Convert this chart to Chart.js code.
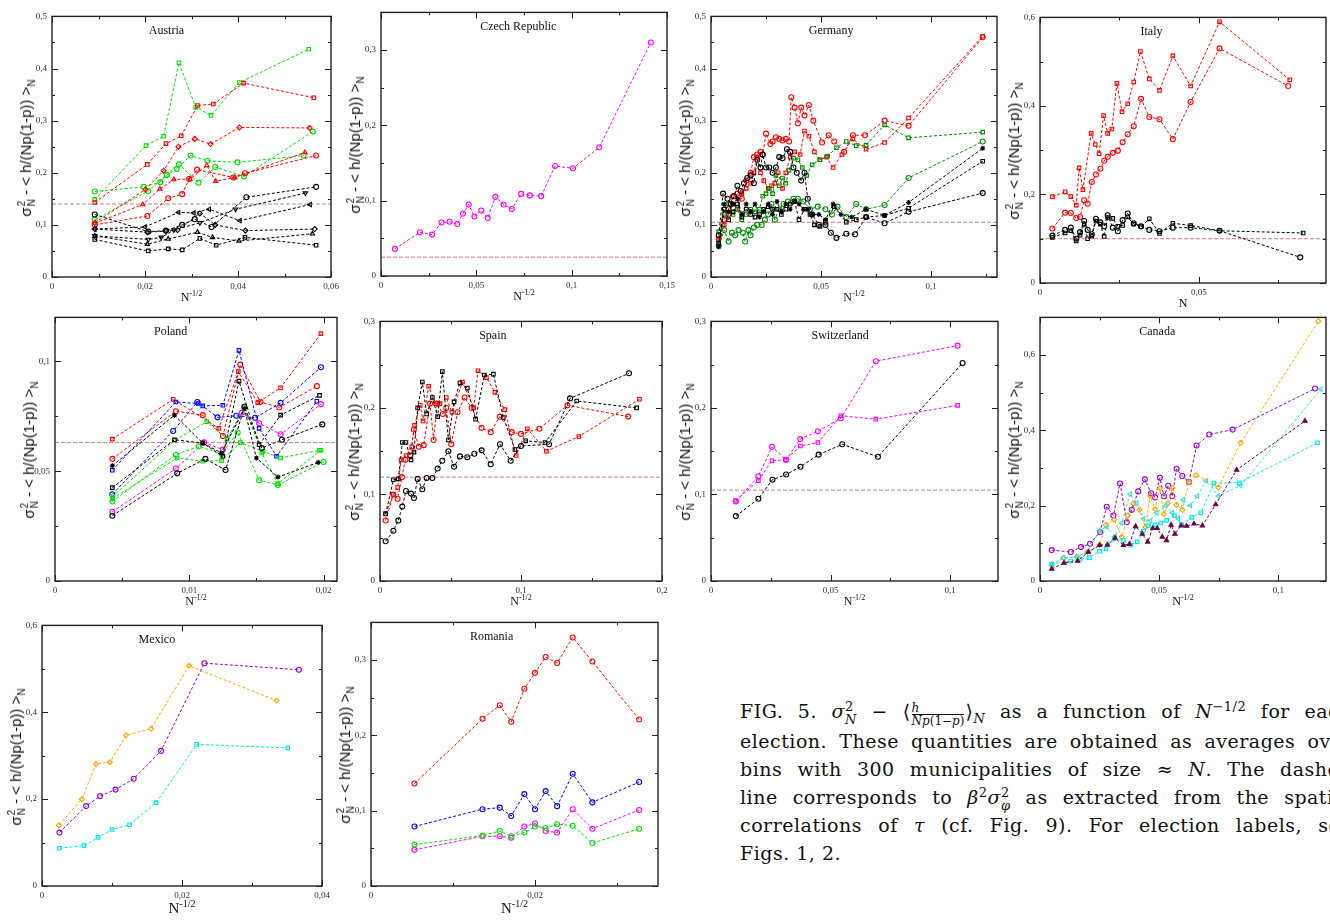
<!DOCTYPE html>
<html>
<head>
<meta charset="utf-8">
<script src="https://cdn.jsdelivr.net/npm/chart.js@4.4.0/dist/chart.umd.min.js"></script>
<style>
  body { margin: 0; width: 1330px; height: 921px; overflow: hidden; background: #fff; position: relative; font-family: 'Liberation Serif', serif; }
  canvas { position: absolute; }
  .ylab { position: absolute; white-space: nowrap; font-family: 'Liberation Sans', sans-serif; font-size: 15px; color: #111;
          transform: translate(-50%, -50%) rotate(-90deg); }
  .st { display: inline-flex; flex-direction: column; font-size: 10px; line-height: 10px; vertical-align: middle; margin-left: 1px; }
  .ylab sub { font-size: 10px; }
  .xlab { position: absolute; white-space: nowrap; transform: translate(-50%, -50%); font-size: 12px; color: #111; font-family: 'Liberation Serif', serif; }
  .xlab sup { font-size: 8px; }
  .xlab.big { font-size: 15px; }
  .xlab.big sup { font-size: 10px; }
  .cap { position: absolute; left: 740px; width: 612px; height: 28px; line-height: 28px; font-size: 19px; color: #111; letter-spacing: 0.5px;
         font-family: 'DejaVu Serif', serif; text-align: justify; text-align-last: justify; white-space: nowrap; }
  .cap.last { text-align-last: left; }
  .cap sub, .cap sup { font-size: 13px; line-height: 0; }
  .frac { display: inline-block; vertical-align: -0.55em; text-align: center; font-size: 12px; line-height: 12px; margin: 0 1px; letter-spacing: 0; }
  .frac span { display: block; }
  .frac .num { border-bottom: 1px solid #111; }
  .st2 { display: inline-flex; flex-direction: column; font-size: 13px; line-height: 13px; vertical-align: middle; }
</style>
</head>
<body>
<script>
// ---- Austria ----
const atGreenSq = [[0.0092,0.149],[0.0202,0.252],[0.0240,0.270],[0.0273,0.411],[0.0309,0.326],[0.0342,0.310],[0.0403,0.373],[0.0552,0.437]];
const atRedSq = [[0.0092,0.143],[0.0205,0.216],[0.0245,0.256],[0.0278,0.271],[0.0313,0.329],[0.0347,0.332],[0.0412,0.372],[0.0563,0.344]];
const atRedDi = [[0.0092,0.104],[0.0201,0.168],[0.0240,0.204],[0.0272,0.250],[0.0307,0.265],[0.0341,0.255],[0.0403,0.287],[0.0554,0.286]];
const atGreenCi = [[0.0092,0.164],[0.0197,0.173],[0.0233,0.182],[0.0247,0.196],[0.0268,0.207],[0.0298,0.233],[0.0334,0.223],[0.0399,0.220],[0.0541,0.233]];
const atGreenLo = [[0.0092,0.110],[0.0207,0.165],[0.0247,0.196],[0.0273,0.216],[0.0315,0.181],[0.0351,0.211],[0.0413,0.193],[0.0561,0.279]];
const atRedTr = [[0.0092,0.103],[0.0195,0.139],[0.0232,0.169],[0.0262,0.187],[0.0297,0.188],[0.0333,0.214],[0.0352,0.184],[0.0393,0.191],[0.0544,0.239]];
const atRedCi = [[0.0092,0.100],[0.0205,0.117],[0.0250,0.151],[0.0280,0.159],[0.0295,0.188],[0.0312,0.206],[0.0390,0.191],[0.0415,0.199],[0.0568,0.233]];
const atBlkCi = [[0.0092,0.120],[0.0207,0.087],[0.0245,0.089],[0.0280,0.100],[0.0307,0.111],[0.0343,0.096],[0.0418,0.153],[0.0568,0.173]];
const atBlkTd = [[0.0092,0.079],[0.0207,0.072],[0.0235,0.076],[0.0262,0.090],[0.0318,0.104],[0.0395,0.130],[0.0545,0.161]];
const atBlkTl = [[0.0092,0.092],[0.0200,0.096],[0.0272,0.124],[0.0305,0.123],[0.0338,0.130],[0.0404,0.108],[0.0555,0.139]];
const atBlkDi = [[0.0092,0.092],[0.0205,0.086],[0.0245,0.088],[0.0270,0.090],[0.0318,0.122],[0.0351,0.100],[0.0416,0.089],[0.0565,0.092]];
const atBlkTu = [[0.0092,0.079],[0.0205,0.063],[0.0250,0.073],[0.0313,0.086],[0.0345,0.076],[0.0402,0.069],[0.0560,0.083]];
const atBlkSq = [[0.0092,0.072],[0.0207,0.050],[0.0250,0.054],[0.0280,0.052],[0.0318,0.074],[0.0353,0.061],[0.0415,0.076],[0.0568,0.061]];

// ---- Czech Republic ----
const czMag = [[0.0073,0.036],[0.0204,0.058],[0.0268,0.055],[0.0317,0.071],[0.0360,0.072],[0.0400,0.069],[0.0430,0.083],[0.0460,0.095],[0.0490,0.079],[0.0526,0.087],[0.0560,0.077],[0.0600,0.105],[0.0643,0.095],[0.0686,0.089],[0.0735,0.109],[0.0780,0.107],[0.0840,0.106],[0.0913,0.146],[0.1007,0.143],[0.1145,0.171],[0.1415,0.310]];

// ---- Germany ----
const deRedCi = [[0.0035,0.073],[0.006,0.110],[0.008,0.130],[0.010,0.155],[0.012,0.160],[0.014,0.150],[0.016,0.185],[0.018,0.200],[0.0195,0.230],[0.021,0.235],[0.0225,0.240],[0.0235,0.235],[0.025,0.275],[0.027,0.255],[0.028,0.260],[0.0295,0.268],[0.031,0.265],[0.0325,0.262],[0.034,0.265],[0.0355,0.260],[0.0365,0.345],[0.038,0.325],[0.0395,0.295],[0.041,0.325],[0.0425,0.310],[0.0445,0.330],[0.0465,0.300],[0.0505,0.258],[0.0535,0.272],[0.056,0.260],[0.0605,0.240],[0.0645,0.272],[0.070,0.272],[0.0789,0.300],[0.0898,0.290],[0.1235,0.460]];
const deRedSq = [[0.0035,0.070],[0.006,0.100],[0.008,0.120],[0.010,0.140],[0.012,0.130],[0.014,0.160],[0.016,0.170],[0.018,0.180],[0.0195,0.200],[0.021,0.230],[0.0225,0.200],[0.024,0.185],[0.026,0.170],[0.0275,0.175],[0.029,0.180],[0.0305,0.200],[0.0325,0.170],[0.034,0.200],[0.036,0.230],[0.038,0.240],[0.0405,0.235],[0.0425,0.280],[0.0445,0.270],[0.047,0.240],[0.0495,0.225],[0.0525,0.230],[0.0555,0.210],[0.0595,0.235],[0.0645,0.265],[0.0705,0.245],[0.0789,0.258],[0.0898,0.305],[0.1235,0.462]];
const deGrnSq = [[0.0035,0.087],[0.006,0.120],[0.008,0.140],[0.010,0.120],[0.012,0.130],[0.014,0.110],[0.016,0.120],[0.018,0.130],[0.020,0.125],[0.022,0.130],[0.0235,0.155],[0.025,0.160],[0.0265,0.170],[0.028,0.160],[0.0295,0.195],[0.031,0.175],[0.0325,0.190],[0.034,0.180],[0.0355,0.205],[0.0375,0.228],[0.0395,0.225],[0.0415,0.210],[0.0435,0.195],[0.046,0.215],[0.0495,0.225],[0.053,0.232],[0.057,0.248],[0.0615,0.260],[0.066,0.252],[0.0705,0.253],[0.0789,0.292],[0.0898,0.267],[0.1235,0.278]];
const deGrnCi = [[0.0035,0.060],[0.006,0.090],[0.008,0.068],[0.0095,0.085],[0.011,0.080],[0.0125,0.090],[0.0145,0.085],[0.0155,0.068],[0.017,0.090],[0.018,0.080],[0.0195,0.095],[0.021,0.100],[0.023,0.100],[0.0245,0.110],[0.026,0.120],[0.0275,0.140],[0.029,0.110],[0.031,0.130],[0.033,0.140],[0.035,0.145],[0.0375,0.150],[0.0395,0.150],[0.042,0.145],[0.045,0.130],[0.0485,0.135],[0.052,0.130],[0.055,0.120],[0.0575,0.135],[0.0615,0.115],[0.066,0.140],[0.0705,0.130],[0.0789,0.138],[0.0898,0.190],[0.1235,0.260]];
const deBlkCi = [[0.0035,0.080],[0.0055,0.160],[0.0075,0.150],[0.009,0.140],[0.0105,0.155],[0.012,0.175],[0.0135,0.165],[0.015,0.180],[0.0165,0.190],[0.018,0.195],[0.0195,0.180],[0.021,0.225],[0.0225,0.210],[0.0235,0.235],[0.025,0.210],[0.0265,0.210],[0.028,0.200],[0.0295,0.210],[0.031,0.230],[0.0325,0.228],[0.0345,0.245],[0.036,0.240],[0.0375,0.210],[0.039,0.200],[0.041,0.185],[0.0425,0.200],[0.044,0.150],[0.046,0.120],[0.049,0.100],[0.052,0.100],[0.0545,0.085],[0.057,0.075],[0.0615,0.083],[0.0655,0.082],[0.0705,0.115],[0.0789,0.103],[0.0898,0.125],[0.1235,0.161]];
const deBlkSq = [[0.0035,0.065],[0.006,0.130],[0.008,0.110],[0.010,0.125],[0.012,0.140],[0.014,0.115],[0.016,0.130],[0.018,0.120],[0.020,0.115],[0.022,0.120],[0.024,0.130],[0.026,0.135],[0.028,0.130],[0.030,0.130],[0.032,0.120],[0.034,0.130],[0.036,0.140],[0.038,0.145],[0.040,0.110],[0.0425,0.130],[0.045,0.120],[0.047,0.100],[0.0495,0.097],[0.052,0.105],[0.056,0.135],[0.0615,0.105],[0.066,0.110],[0.0705,0.115],[0.0789,0.118],[0.0898,0.132],[0.1235,0.222]];
const deBlkSt = [[0.0035,0.058],[0.006,0.140],[0.008,0.125],[0.010,0.140],[0.012,0.150],[0.014,0.120],[0.016,0.140],[0.018,0.125],[0.020,0.140],[0.022,0.115],[0.024,0.125],[0.026,0.140],[0.028,0.120],[0.030,0.145],[0.032,0.125],[0.034,0.140],[0.036,0.130],[0.038,0.145],[0.040,0.140],[0.042,0.130],[0.044,0.130],[0.046,0.120],[0.049,0.120],[0.052,0.110],[0.0555,0.140],[0.059,0.120],[0.064,0.115],[0.0705,0.130],[0.0789,0.118],[0.0898,0.143],[0.1235,0.247]];

// ---- Italy ----
const itRedSq = [[0.0039,0.195],[0.0079,0.206],[0.0097,0.195],[0.0114,0.176],[0.0123,0.260],[0.0135,0.211],[0.0161,0.338],[0.0174,0.313],[0.0186,0.292],[0.0200,0.378],[0.0213,0.338],[0.0226,0.348],[0.0242,0.451],[0.0258,0.387],[0.0276,0.405],[0.0295,0.454],[0.0316,0.523],[0.0344,0.461],[0.0376,0.435],[0.0418,0.513],[0.0474,0.445],[0.0565,0.590],[0.0786,0.459]];
const itRedCi = [[0.0039,0.123],[0.0079,0.159],[0.0097,0.158],[0.0114,0.147],[0.0126,0.149],[0.0139,0.187],[0.0150,0.179],[0.0163,0.228],[0.0176,0.245],[0.0190,0.258],[0.0202,0.276],[0.0213,0.285],[0.0229,0.294],[0.0245,0.299],[0.0260,0.318],[0.0276,0.336],[0.0295,0.354],[0.0318,0.416],[0.0344,0.375],[0.0376,0.370],[0.0418,0.325],[0.0474,0.409],[0.0565,0.530],[0.0781,0.445]];
const itBlkSq = [[0.0039,0.103],[0.0079,0.113],[0.0097,0.118],[0.0114,0.095],[0.0126,0.108],[0.0139,0.133],[0.0150,0.100],[0.0163,0.106],[0.0176,0.140],[0.0190,0.133],[0.0202,0.105],[0.0213,0.148],[0.0229,0.146],[0.0245,0.128],[0.0260,0.130],[0.0276,0.149],[0.0295,0.133],[0.0318,0.127],[0.0344,0.145],[0.0376,0.112],[0.0418,0.135],[0.0474,0.130],[0.0565,0.118],[0.0828,0.113]];
const itBlkCi = [[0.0039,0.107],[0.0079,0.120],[0.0097,0.125],[0.0114,0.100],[0.0126,0.115],[0.0139,0.140],[0.0150,0.120],[0.0163,0.110],[0.0176,0.145],[0.0190,0.137],[0.0202,0.128],[0.0213,0.153],[0.0229,0.125],[0.0245,0.117],[0.0260,0.142],[0.0276,0.157],[0.0295,0.135],[0.0318,0.128],[0.0344,0.120],[0.0376,0.117],[0.0418,0.125],[0.0474,0.125],[0.0565,0.118],[0.0819,0.058]];

// ---- Poland ----
const plRed1 = [[0.00427,0.0646],[0.0088,0.0827],[0.0122,0.0695],[0.01365,0.0953],[0.0151,0.0812],[0.0168,0.0880],[0.0198,0.1126]];
const plRed2 = [[0.00427,0.0556],[0.0090,0.0773],[0.0110,0.0755],[0.0125,0.0660],[0.0138,0.0985],[0.0153,0.0815],[0.0167,0.0790],[0.0195,0.0887]];
const plBlue1 = [[0.00427,0.0504],[0.0090,0.0815],[0.01067,0.0808],[0.0110,0.0797],[0.0125,0.0800],[0.0137,0.1050],[0.0152,0.0695],[0.0165,0.0568],[0.0195,0.0818]];
const plBlue2 = [[0.00427,0.0395],[0.0088,0.0683],[0.0106,0.0815],[0.0121,0.0745],[0.0135,0.0752],[0.0149,0.0743],[0.0168,0.0811],[0.0198,0.0973]];
const plBlk1 = [[0.00427,0.0425],[0.0089,0.0643],[0.0110,0.0628],[0.0125,0.0568],[0.0137,0.0910],[0.0152,0.0620],[0.0168,0.0755],[0.0197,0.0845]];
const plBlk2 = [[0.00427,0.0525],[0.0089,0.0755],[0.0110,0.0628],[0.0124,0.0583],[0.0141,0.0785],[0.0150,0.0560],[0.0166,0.0473],[0.0196,0.0540]];
const plBlk3 = [[0.00427,0.0297],[0.0091,0.0490],[0.0112,0.0556],[0.0127,0.0505],[0.0141,0.0793],[0.0154,0.0605],[0.0169,0.0643],[0.0199,0.0713]];
const plGrn1 = [[0.00427,0.0383],[0.0089,0.0640],[0.0113,0.0725],[0.0128,0.0646],[0.0141,0.0790],[0.0154,0.0583],[0.0166,0.0443],[0.0198,0.0595]];
const plGrn2 = [[0.00427,0.0362],[0.0090,0.0575],[0.0107,0.0613],[0.0124,0.0578],[0.0136,0.0676],[0.0152,0.0459],[0.0166,0.0437],[0.0200,0.0542]];
const plGrn3 = [[0.00427,0.0375],[0.0091,0.0560],[0.0110,0.0545],[0.0124,0.0548],[0.0138,0.0630],[0.0155,0.0590],[0.0168,0.0560],[0.0197,0.0595]];
const plMag = [[0.00427,0.0315],[0.0090,0.0512],[0.0111,0.0631],[0.0125,0.0598],[0.0139,0.0766],[0.0152,0.0718],[0.0168,0.0668],[0.0198,0.0805]];

// ---- Spain ----
const esBlkCi = [[0.004,0.046],[0.0095,0.058],[0.013,0.070],[0.0158,0.086],[0.0184,0.104],[0.022,0.101],[0.0241,0.096],[0.0267,0.118],[0.030,0.106],[0.0331,0.119],[0.0371,0.119],[0.0409,0.130],[0.0442,0.139],[0.0485,0.150],[0.0525,0.132],[0.0567,0.144],[0.0619,0.143],[0.0669,0.147],[0.0721,0.151],[0.0785,0.135],[0.0851,0.158],[0.0927,0.139],[0.100,0.156],[0.1199,0.158],[0.1348,0.211],[0.1766,0.240]];
const esBlkSq = [[0.004,0.0775],[0.0095,0.117],[0.013,0.118],[0.0158,0.160],[0.0184,0.160],[0.022,0.140],[0.0241,0.149],[0.0267,0.200],[0.030,0.230],[0.0331,0.193],[0.0371,0.212],[0.0409,0.190],[0.0442,0.242],[0.0485,0.163],[0.0525,0.207],[0.0567,0.229],[0.0619,0.223],[0.0678,0.187],[0.074,0.238],[0.0804,0.239],[0.0875,0.189],[0.0957,0.152],[0.1033,0.162],[0.117,0.160],[0.1395,0.208],[0.182,0.200]];
const esRedCi = [[0.004,0.070],[0.0095,0.100],[0.0125,0.095],[0.0155,0.120],[0.018,0.140],[0.0215,0.145],[0.024,0.175],[0.0275,0.155],[0.031,0.157],[0.0355,0.205],[0.038,0.163],[0.0405,0.205],[0.0445,0.193],[0.047,0.200],[0.0505,0.158],[0.055,0.195],[0.060,0.212],[0.065,0.200],[0.072,0.177],[0.0785,0.172],[0.085,0.190],[0.0935,0.172],[0.100,0.170],[0.113,0.176],[0.133,0.203],[0.176,0.190]];
const esRedSq = [[0.004,0.078],[0.0095,0.100],[0.0125,0.108],[0.015,0.140],[0.0185,0.145],[0.0225,0.155],[0.0245,0.180],[0.0285,0.203],[0.0305,0.185],[0.0345,0.225],[0.0395,0.205],[0.0425,0.205],[0.047,0.212],[0.051,0.195],[0.0585,0.230],[0.0665,0.200],[0.0695,0.243],[0.0755,0.235],[0.0815,0.218],[0.0885,0.198],[0.0965,0.145],[0.1045,0.176],[0.118,0.150],[0.141,0.167],[0.184,0.210]];

// ---- Switzerland ----
const chBlk = [[0.0104,0.075],[0.0198,0.095],[0.0257,0.117],[0.0314,0.123],[0.0374,0.132],[0.0450,0.146],[0.0549,0.158],[0.0698,0.1435],[0.1052,0.252]];
const chMagCi = [[0.0104,0.092],[0.0198,0.121],[0.0255,0.155],[0.0314,0.140],[0.0373,0.164],[0.0447,0.173],[0.0543,0.188],[0.0689,0.254],[0.1031,0.272]];
const chMagSq = [[0.0104,0.093],[0.0198,0.116],[0.0255,0.139],[0.0311,0.140],[0.0374,0.156],[0.0447,0.160],[0.0543,0.191],[0.0689,0.187],[0.1031,0.203]];

// ---- Canada ----
const caVio = [[0.0049,0.082],[0.0129,0.077],[0.0172,0.090],[0.021,0.099],[0.0252,0.130],[0.028,0.197],[0.0308,0.174],[0.0336,0.259],[0.0364,0.156],[0.0385,0.189],[0.0412,0.238],[0.044,0.270],[0.0466,0.233],[0.0483,0.222],[0.0503,0.274],[0.052,0.225],[0.0538,0.253],[0.0555,0.225],[0.0573,0.298],[0.0597,0.279],[0.0625,0.263],[0.0657,0.360],[0.071,0.389],[0.0808,0.402],[0.1154,0.511]];
const caOra = [[0.0049,0.042],[0.0098,0.061],[0.0154,0.064],[0.020,0.077],[0.025,0.096],[0.0277,0.149],[0.0311,0.163],[0.0343,0.117],[0.0368,0.174],[0.0392,0.206],[0.0417,0.189],[0.0443,0.143],[0.0462,0.226],[0.0483,0.191],[0.0503,0.246],[0.052,0.178],[0.0536,0.206],[0.0555,0.247],[0.0573,0.202],[0.0597,0.189],[0.0625,0.263],[0.0655,0.281],[0.0748,0.248],[0.0842,0.367],[0.1168,0.690]];
const caTur = [[0.0049,0.044],[0.0098,0.061],[0.0154,0.064],[0.020,0.079],[0.025,0.134],[0.028,0.143],[0.0315,0.119],[0.0343,0.154],[0.0378,0.231],[0.0406,0.207],[0.0434,0.165],[0.0462,0.160],[0.049,0.181],[0.0527,0.200],[0.0555,0.181],[0.058,0.165],[0.0601,0.216],[0.063,0.200],[0.066,0.226],[0.0697,0.266],[0.0748,0.226],[0.0842,0.253],[0.1178,0.509]];
const caCya = [[0.0049,0.045],[0.0129,0.053],[0.0168,0.058],[0.0207,0.062],[0.025,0.079],[0.0277,0.086],[0.0311,0.112],[0.035,0.108],[0.0381,0.095],[0.0408,0.104],[0.0434,0.132],[0.0455,0.147],[0.0483,0.149],[0.0506,0.154],[0.0531,0.161],[0.0564,0.174],[0.0594,0.150],[0.0636,0.169],[0.0675,0.181],[0.073,0.260],[0.0836,0.261],[0.1164,0.367]];
const caMar = [[0.0049,0.032],[0.0101,0.048],[0.0158,0.053],[0.0203,0.077],[0.025,0.095],[0.0283,0.096],[0.0315,0.114],[0.035,0.095],[0.0375,0.098],[0.0401,0.145],[0.0429,0.125],[0.0452,0.104],[0.0473,0.140],[0.0492,0.140],[0.0513,0.117],[0.0531,0.108],[0.055,0.149],[0.0566,0.125],[0.0592,0.147],[0.0615,0.146],[0.0646,0.152],[0.0681,0.147],[0.0737,0.203],[0.0825,0.295],[0.1112,0.425]];

// ---- Mexico ----
const mxOra = [[0.0024,0.140],[0.0057,0.200],[0.0077,0.281],[0.0097,0.285],[0.0120,0.347],[0.0156,0.362],[0.0210,0.507],[0.0335,0.427]];
const mxVio = [[0.0025,0.123],[0.0063,0.184],[0.0083,0.207],[0.0105,0.222],[0.0131,0.247],[0.0170,0.311],[0.0232,0.513],[0.0367,0.498]];
const mxCya = [[0.0025,0.087],[0.0060,0.093],[0.0080,0.112],[0.0100,0.130],[0.0125,0.141],[0.0163,0.192],[0.0221,0.326],[0.0351,0.318]];

// ---- Romania ----
const roX = [0.0053,0.0136,0.0157,0.0171,0.0187,0.0200,0.0213,0.0227,0.0246,0.0270,0.0327];
const roRed = [0.136,0.222,0.240,0.218,0.262,0.283,0.304,0.296,0.330,0.298,0.221];
const roBlue = [0.079,0.102,0.104,0.093,0.122,0.102,0.126,0.106,0.149,0.111,0.138];
const roMag = [0.048,0.066,0.066,0.064,0.079,0.083,0.073,0.071,0.102,0.076,0.101];
const roGrn = [0.055,0.067,0.073,0.066,0.071,0.079,0.077,0.082,0.080,0.057,0.076];

// reference (dashed) levels
const refLevels = { austria: 0.14, czech: 0.025, germany: 0.105, italy: 0.1, poland: 0.063, spain: 0.12, swiss: 0.105 };

const RED = '#ff0000', GRN = '#00e000', DGRN = '#008b00', BLK = '#000000', BLU = '#0000ff', MAG = '#ff00ff',
      VIO = '#9400d3', ORA = '#ffa500', TUR = '#40e0d0', CYA = '#00e5ee', MAR = '#670748';

const zip = (xs, ys) => xs.map((x, i) => [x, ys[i]]);

const frameTicks = {
  id: 'frameTicks',
  afterDraw(chart, args, o) {
    const { ctx, chartArea: a, scales: { x, y } } = chart;
    ctx.save();
    ctx.strokeStyle = '#222';
    ctx.lineWidth = 1;
    const marks = (axis, step, len) => {
      for (let i = 0; i * step <= axis.max + 1e-9; i++) {
        const p = Math.round(axis.getPixelForValue(i * step)) + 0.5;
        ctx.beginPath();
        if (axis === x) {
          ctx.moveTo(p, a.bottom); ctx.lineTo(p, a.bottom - len);
          ctx.moveTo(p, a.top); ctx.lineTo(p, a.top + len);
        } else {
          ctx.moveTo(a.left, p); ctx.lineTo(a.left + len, p);
          ctx.moveTo(a.right, p); ctx.lineTo(a.right - len, p);
        }
        ctx.stroke();
      }
    };
    marks(x, o.xMinor, 3); marks(x, o.xStep, 6);
    marks(y, o.yMinor, 3); marks(y, o.yStep, 6);
    ctx.lineWidth = 1.4;
    ctx.strokeRect(a.left, a.top, a.right - a.left, a.bottom - a.top);
    ctx.fillStyle = '#111';
    ctx.font = '12px "Liberation Serif"';
    ctx.textAlign = 'center';
    ctx.textBaseline = 'middle';
    ctx.fillText(o.title, a.left + o.titleX * (a.right - a.left), a.top + 14);
    ctx.restore();
  }
};

const fmt = v => v === 0 ? '0' : String(+v.toFixed(4)).replace('.', ',');

function panel(p) {
  const W = p.box.w + 48, H = p.box.h + 26;
  const c = document.createElement('canvas');
  c.width = W; c.height = H;
  c.style.left = (p.box.l - 32) + 'px';
  c.style.top = (p.box.t - 8) + 'px';
  c.style.width = W + 'px'; c.style.height = H + 'px';
  document.body.appendChild(c);

  const datasets = p.series.map(s => ({
    data: s.data.map(d => ({ x: d[0], y: d[1] })),
    showLine: true,
    borderColor: s.color,
    backgroundColor: s.fill ? s.color : 'rgba(255,255,255,0)',
    borderWidth: 1,
    borderDash: [3, 2],
    pointStyle: s.shape || 'circle',
    pointRotation: s.rot || 0,
    pointRadius: 2.5,
    pointBorderWidth: 1.1
  }));
  if (p.ref !== undefined) {
    datasets.unshift({
      data: [{ x: 0, y: p.ref }, { x: p.xMax, y: p.ref }],
      showLine: true, borderColor: 'rgba(165,42,42,0.6)', borderWidth: 1, borderDash: [4, 2], pointRadius: 0
    });
  }
  const tickFont = { family: 'Liberation Serif', size: 9 };
  new Chart(c, {
    type: 'scatter',
    data: { datasets },
    plugins: [frameTicks],
    options: {
      animation: false,
      responsive: false,
      maintainAspectRatio: false,
      layout: { padding: { top: 8, right: 16, left: 0, bottom: 0 } },
      plugins: {
        legend: { display: false },
        tooltip: { enabled: false },
        frameTicks: { xStep: p.xStep, xMinor: p.xMinor, yStep: p.yStep, yMinor: p.yMinor, title: p.title, titleX: p.titleX }
      },
      scales: {
        x: {
          type: 'linear', min: 0, max: p.xMax,
          grid: { display: false, drawTicks: false }, border: { display: false },
          ticks: { stepSize: p.xStep, includeBounds: false, padding: 4, font: tickFont, color: '#333', callback: fmt, maxRotation: 0, autoSkip: false },
          afterFit: s => { s.height = 18; }
        },
        y: {
          type: 'linear', min: 0, max: p.yMax,
          grid: { display: false, drawTicks: false }, border: { display: false },
          ticks: { stepSize: p.yStep, includeBounds: false, padding: 5, font: tickFont, color: '#333', callback: fmt, autoSkip: false },
          afterFit: s => { s.width = 32; }
        }
      }
    }
  });

  const yl = document.createElement('div');
  yl.className = 'ylab';
  yl.style.left = (p.box.l - 25) + 'px';
  yl.style.top = (p.box.t + p.box.h / 2 + 2) + 'px';
  yl.innerHTML = 'σ<span class="st"><span>2</span><span>N</span></span> - &lt; h/(Np(1-p)) &gt;<sub>N</sub>';
  document.body.appendChild(yl);

  const xl = document.createElement('div');
  xl.className = 'xlab' + (p.big ? ' big' : '');
  xl.style.left = (p.box.l + p.box.w / 2) + 'px';
  xl.style.top = (p.box.t + p.box.h + (p.big ? 21 : 20)) + 'px';
  xl.innerHTML = p.xLabel || 'N<sup>-1/2</sup>';
  document.body.appendChild(xl);
}

panel({ box: { l: 52, t: 14, w: 279, h: 263 }, xMax: 0.06, xStep: 0.02, xMinor: 0.01, yMax: 0.5, yStep: 0.1, yMinor: 0.05,
  title: 'Austria', titleX: 0.41, ref: refLevels.austria, series: [
    { data: atBlkCi, color: BLK }, { data: atBlkTd, color: BLK, shape: 'triangle', rot: 180 },
    { data: atBlkTl, color: BLK, shape: 'triangle', rot: -90 }, { data: atBlkDi, color: BLK, shape: 'rectRot' },
    { data: atBlkTu, color: BLK, shape: 'triangle' }, { data: atBlkSq, color: BLK, shape: 'rect' },
    { data: atRedCi, color: RED }, { data: atRedTr, color: RED, shape: 'triangle' },
    { data: atRedDi, color: RED, shape: 'rectRot' }, { data: atRedSq, color: RED, shape: 'rect' },
    { data: atGreenLo, color: GRN }, { data: atGreenCi, color: GRN },
    { data: atGreenSq, color: GRN, shape: 'rect' }] });

panel({ box: { l: 381, t: 10, w: 286, h: 266 }, xMax: 0.15, xStep: 0.05, xMinor: 0.025, yMax: 0.35, yStep: 0.1, yMinor: 0.05,
  title: 'Czech Republic', titleX: 0.48, ref: refLevels.czech, series: [{ data: czMag, color: MAG }] });

panel({ box: { l: 711, t: 14, w: 286, h: 263 }, xMax: 0.13, xStep: 0.05, xMinor: 0.025, yMax: 0.5, yStep: 0.1, yMinor: 0.05,
  title: 'Germany', titleX: 0.42, ref: refLevels.germany, series: [
    { data: deBlkCi, color: BLK }, { data: deBlkSq, color: BLK, shape: 'rect' }, { data: deBlkSt, color: BLK, shape: 'star' },
    { data: deGrnCi, color: DGRN }, { data: deGrnSq, color: DGRN, shape: 'rect' },
    { data: deRedSq, color: RED, shape: 'rect' }, { data: deRedCi, color: RED }] });

panel({ box: { l: 1040, t: 15, w: 286, h: 268 }, xMax: 0.09, xStep: 0.05, xMinor: 0.025, yMax: 0.6, yStep: 0.2, yMinor: 0.1,
  title: 'Italy', titleX: 0.39, ref: refLevels.italy, xLabel: 'N', series: [
    { data: itBlkSq, color: BLK, shape: 'rect' }, { data: itBlkCi, color: BLK },
    { data: itRedCi, color: RED }, { data: itRedSq, color: RED, shape: 'rect' }] });

panel({ box: { l: 55, t: 315, w: 282, h: 266 }, xMax: 0.021, xStep: 0.01, xMinor: 0.005, yMax: 0.12, yStep: 0.05, yMinor: 0.025,
  title: 'Poland', titleX: 0.41, ref: refLevels.poland, series: [
    { data: plBlk1, color: BLK, shape: 'rect' }, { data: plBlk2, color: BLK, shape: 'star' }, { data: plBlk3, color: BLK },
    { data: plGrn1, color: GRN, shape: 'rect' }, { data: plGrn2, color: GRN }, { data: plGrn3, color: GRN, shape: 'rect' },
    { data: plMag, color: MAG },
    { data: plBlue1, color: BLU, shape: 'rect' }, { data: plBlue2, color: BLU },
    { data: plRed2, color: RED }, { data: plRed1, color: RED, shape: 'rect' }] });

panel({ box: { l: 380, t: 319, w: 282, h: 262 }, xMax: 0.2, xStep: 0.1, xMinor: 0.05, yMax: 0.3, yStep: 0.1, yMinor: 0.05,
  title: 'Spain', titleX: 0.4, ref: refLevels.spain, series: [
    { data: esBlkCi, color: BLK }, { data: esBlkSq, color: BLK, shape: 'rect' },
    { data: esRedCi, color: RED }, { data: esRedSq, color: RED, shape: 'rect' }] });

panel({ box: { l: 711, t: 319, w: 287, h: 262 }, xMax: 0.12, xStep: 0.05, xMinor: 0.025, yMax: 0.3, yStep: 0.1, yMinor: 0.05,
  title: 'Switzerland', titleX: 0.45, ref: refLevels.swiss, series: [
    { data: chBlk, color: BLK }, { data: chMagSq, color: MAG, shape: 'rect' }, { data: chMagCi, color: MAG }] });

panel({ box: { l: 1040, t: 315, w: 286, h: 266 }, xMax: 0.12, xStep: 0.05, xMinor: 0.025, yMax: 0.7, yStep: 0.2, yMinor: 0.1,
  title: 'Canada', titleX: 0.41, series: [
    { data: caMar, color: MAR, shape: 'triangle', fill: true }, { data: caCya, color: CYA, shape: 'rect' },
    { data: caTur, color: TUR, shape: 'triangle', rot: -90 }, { data: caOra, color: ORA, shape: 'rectRot' },
    { data: caVio, color: VIO }] });

panel({ box: { l: 42, t: 623, w: 280, h: 263 }, xMax: 0.04, xStep: 0.02, xMinor: 0.01, yMax: 0.6, yStep: 0.2, yMinor: 0.1,
  title: 'Mexico', titleX: 0.41, big: true, series: [
    { data: mxCya, color: CYA, shape: 'rect' }, { data: mxVio, color: VIO }, { data: mxOra, color: ORA, shape: 'rectRot' }] });

panel({ box: { l: 371, t: 620, w: 287, h: 266 }, xMax: 0.035, xStep: 0.02, xMinor: 0.01, yMax: 0.35, yStep: 0.1, yMinor: 0.05,
  title: 'Romania', titleX: 0.42, big: true, series: [
    { data: zip(roX, roGrn), color: GRN }, { data: zip(roX, roMag), color: MAG },
    { data: zip(roX, roBlue), color: BLU }, { data: zip(roX, roRed), color: RED }] });
</script>

<div class="cap" style="top:697px">FIG. 5. <i>σ</i><span class="st2"><span>2</span><span><i>N</i></span></span> − ⟨<span class="frac"><span class="num"><i>h</i></span><span class="den"><i>Np</i>(1−<i>p</i>)</span></span>⟩<sub><i>N</i></sub> as a function of <i>N</i><sup>−1/2</sup> for each</div>
<div class="cap" style="top:727px">election. These quantities are obtained as averages over</div>
<div class="cap" style="top:755px">bins with 300 municipalities of size ≈ <i>N</i>. The dashed</div>
<div class="cap" style="top:783px">line corresponds to <i>β</i><sup>2</sup><i>σ</i><span class="st2"><span>2</span><span><i>φ</i></span></span> as extracted from the spatial</div>
<div class="cap" style="top:811px">correlations of <i>τ</i> (cf. Fig. 9). For election labels, see</div>
<div class="cap last" style="top:839px">Figs. 1, 2.</div>
</body>
</html>
